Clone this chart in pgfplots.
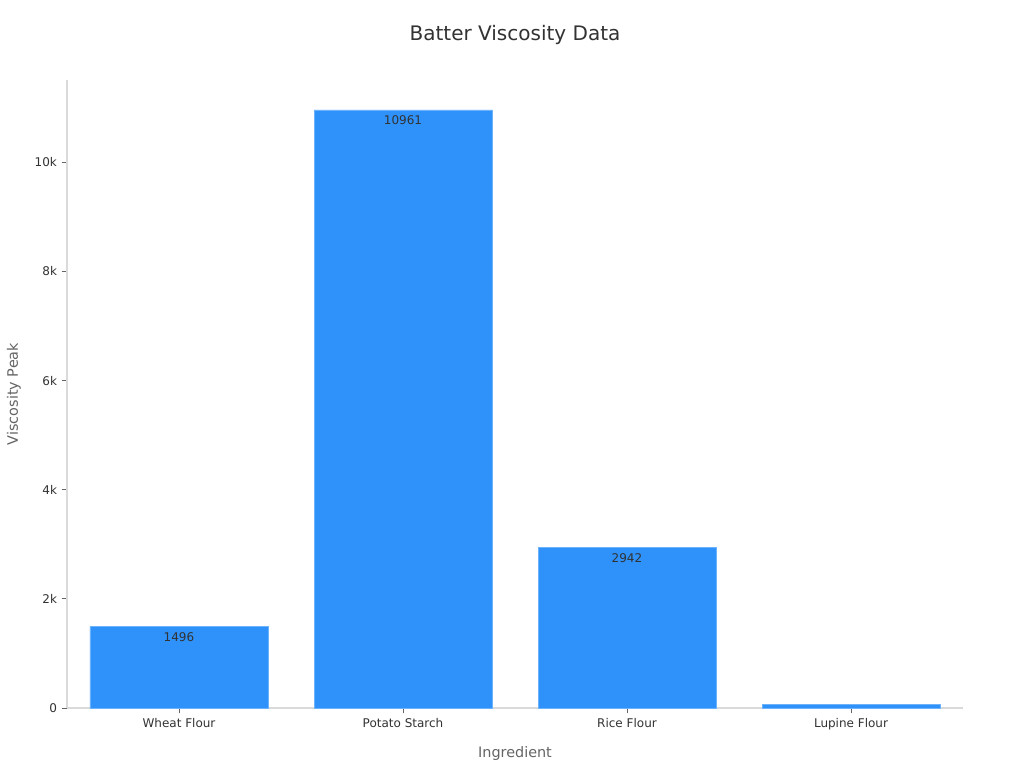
\documentclass[border=0pt]{standalone}
\usepackage{fontspec}
\setmainfont{DejaVu Sans}
\usepackage{pgfplots}
\pgfplotsset{compat=1.18}

\definecolor{barblue}{RGB}{46,146,250}
\definecolor{axisgray}{RGB}{218,218,218}
\definecolor{labelgray}{RGB}{100,100,100}
\definecolor{textdark}{RGB}{50,50,50}

\begin{document}
\begin{tikzpicture}[x=1pt,y=1pt]
\begin{axis}[
    at={(0,0)}, anchor=south west,
    scale only axis,
    width=672pt, height=471pt,
    xmin=-0.5, xmax=3.5,
    ymin=0, ymax=11509,
    axis x line*=bottom,
    axis y line*=left,
    axis line style={axisgray, line width=0.8pt},
    xtick={0,1,2,3},
    xticklabels={Wheat Flour,Potato Starch,Rice Flour,Lupine Flour},
    ytick={0,2000,4000,6000,8000,10000},
    yticklabels={0,2k,4k,6k,8k,10k},
    scaled y ticks=false,
    tick style={labelgray, line width=0.6pt},
    tick align=outside,
    major tick length=4pt,
    ticklabel style={font=\fontsize{9}{11}\selectfont, text=textdark},
    xlabel={Ingredient},
    ylabel={Viscosity Peak},
    label style={font=\fontsize{10.8}{13}\selectfont, text=labelgray},
    xlabel style={yshift=-6pt},
    ylabel style={yshift=3.5pt},
    title={Batter Viscosity Data},
    title style={font=\fontsize{15}{18}\selectfont, text=textdark, yshift=17pt},
    ybar, bar width=133.5pt,
]
\addplot[fill=barblue, draw=barblue!70!white, bar shift=0pt,
    nodes near coords,
    nodes near coords style={anchor=north, font=\fontsize{9}{11}\selectfont, text=textdark, yshift=-1pt},
    point meta=explicit symbolic]
    coordinates {(0,1496)[1496] (1,10961)[10961] (2,2942)[2942]};
\addplot[fill=barblue, draw=barblue!70!white, bar shift=0pt]
    coordinates {(3,70)};
\end{axis}
\path[use as bounding box] (-50.25,-45) rectangle (717.75,531);
\end{tikzpicture}
\end{document}
